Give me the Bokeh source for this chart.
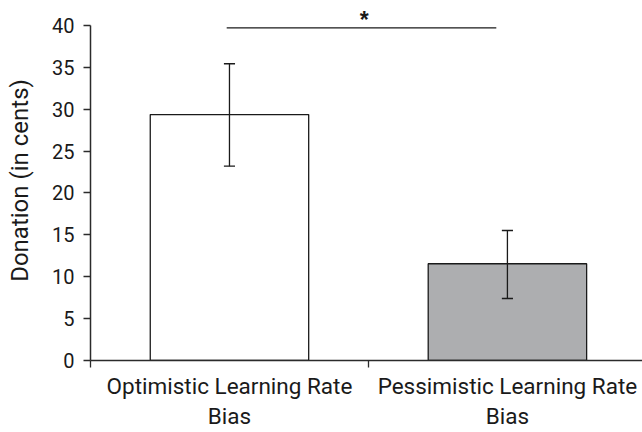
from bokeh.plotting import figure
from bokeh.models import Range1d, FixedTicker, ColumnDataSource
from bokeh.core.properties import value
from bokeh.embed import file_html
from bokeh.resources import INLINE

# ---- data ----
categories = ["Optimistic Learning Rate\nBias", "Pessimistic Learning Rate\nBias"]
means = [29.37, 11.55]
err_lower = [23.2, 7.4]
err_upper = [35.43, 15.52]
bar_colors = ["#ffffff", "#adaeb0"]
y_ticks = [0, 5, 10, 15, 20, 25, 30, 35, 40]
sig_span = [0.49, 1.46]
sig_level = 39.72
sig_label = "*"
y_label = "Donation (in cents)"

FONT = "Roboto"
AX = "#2b2b2b"
INK = "#1a1a1a"

xs = [i + 0.5 for i in range(len(categories))]
cap = 0.02
cap_x0 = [x - cap for x in xs]
cap_x1 = [x + cap for x in xs]

p = figure(width=642, height=432, output_backend="svg", toolbar_location=None,
           x_range=Range1d(0, 1.986), y_range=Range1d(0, 42.985),
           min_border_left=90, min_border_right=0, min_border_top=0, min_border_bottom=72)
p.outline_line_color = None
p.xgrid.visible = False
p.ygrid.visible = False

src = ColumnDataSource(dict(x=xs, top=means, lower=err_lower, upper=err_upper,
                            color=bar_colors, cx0=cap_x0, cx1=cap_x1))
p.vbar(x="x", top="top", bottom=0, width=0.57, source=src, fill_color="color",
       line_color=INK, line_width=1.3)
# error bars
p.segment(x0="x", x1="x", y0="lower", y1="upper", source=src, line_color=INK, line_width=1.3)
p.segment(x0="cx0", x1="cx1", y0="upper", y1="upper", source=src, line_color=INK, line_width=1.3)
p.segment(x0="cx0", x1="cx1", y0="lower", y1="lower", source=src, line_color=INK, line_width=1.3)

# significance bracket
p.line(x=sig_span, y=[sig_level, sig_level], line_color=INK, line_width=1.3)
p.text(x=[sum(sig_span) / 2 + 0.01], y=[sig_level + 0.9], text=[sig_label],
       text_font=value("Liberation Sans"), text_font_size="23px", text_font_style="bold",
       text_align="center", text_baseline="alphabetic", text_color=INK)

# axes
yax = p.yaxis[0]
yax.ticker = FixedTicker(ticks=y_ticks)
yax.bounds = (0, 40)
yax.axis_label = y_label
yax.axis_label_text_font = FONT
yax.axis_label_text_font_size = "24px"
yax.axis_label_text_font_style = "normal"
yax.axis_label_text_color = INK
yax.axis_label_standoff = 15
yax.major_label_text_font = FONT
yax.major_label_text_font_size = "20px"
yax.major_label_text_color = INK
yax.major_label_standoff = 9
yax.major_tick_out = 7
yax.major_tick_in = 0
yax.minor_tick_line_color = None
yax.axis_line_color = AX
yax.major_tick_line_color = AX
yax.axis_line_width = 1.5
yax.major_tick_line_width = 1.3

xax = p.xaxis[0]
xax.ticker = FixedTicker(ticks=xs, minor_ticks=[0, 1, 2])
xax.major_label_overrides = {x: c for x, c in zip(xs, categories)}
xax.major_label_text_font = FONT
xax.major_label_text_font_size = "22.5px"
xax.major_label_text_color = INK
xax.major_label_text_line_height = 1.17
xax.major_label_standoff = 5
xax.major_tick_line_color = None
xax.major_tick_out = 0
xax.major_tick_in = 0
xax.minor_tick_out = 7
xax.minor_tick_in = 0
xax.minor_tick_line_color = AX
xax.minor_tick_line_width = 1.3
xax.axis_line_color = AX
xax.axis_line_width = 1.5

open("out.html", "w").write(file_html(p, INLINE))
